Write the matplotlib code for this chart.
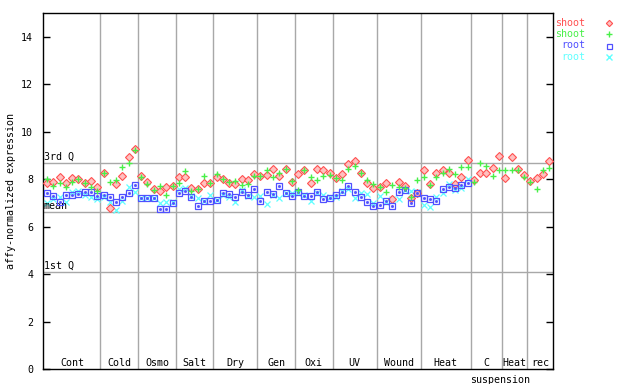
import matplotlib
matplotlib.use('Agg')
import matplotlib.pyplot as plt
import numpy as np

# sample groups and how many samples each holds
groups = ['Cont', 'Cold', 'Osmo', 'Salt', 'Dry', 'Gen', 'Oxi', 'UV',
          'Wound', 'Heat', 'C', 'Heat', 'rec']
counts = [9, 6, 6, 6, 7, 6, 6, 7, 7, 8, 5, 4, 4]

# reference lines
q3 = 8.69
mean = 6.62
q1 = 4.09

# shoot replicate 1 (red) and 2 (green)
shoot_red = [7.87, 7.91, 8.12, 7.84, 8.05, 8.01, 7.84, 7.95, 7.67,
             8.27, 6.79, 7.81, 8.15, 8.94, 9.29,
             8.15, 7.91, 7.60, 7.53, 7.70, 7.73,
             8.10, 8.10, 7.63, 7.59, 7.87, 7.87,
             8.10, 8.01, 7.84, 7.81, 8.01, 7.98, 8.24,
             8.15, 8.19, 8.43, 8.15, 8.43, 7.91,
             8.24, 8.38, 7.84, 8.43, 8.38, 8.29,
             8.05, 8.24, 8.66, 8.76, 8.29, 7.84, 7.63,
             7.70, 7.84, 7.17, 7.91, 7.73, 7.21, 7.42,
             8.38, 7.81, 8.26, 8.40, 8.29, 7.81, 8.10, 8.80,
             7.98, 8.29, 8.29, 8.47, 9.00,
             8.05, 8.94, 8.43, 8.19,
             7.95, 8.05, 8.24, 8.76]
shoot_green = [8.01, 7.73, 7.87, 7.70, 7.90, 8.01, 7.87, 7.67, 7.53,
               8.27, 7.91, 7.98, 8.52, 8.71, 9.25,
               8.12, 7.80, 7.55, 7.73, 7.35, 7.73,
               7.87, 8.35, 7.53, 7.59, 8.15, 7.87,
               8.24, 8.01, 7.91, 7.95, 7.77, 7.81, 8.15,
               8.15, 8.40, 8.10, 8.29, 8.43, 7.95,
               7.56, 8.38, 8.10, 7.96, 8.15, 8.19,
               8.05, 7.98, 8.43, 8.57, 8.26, 7.98, 7.81,
               7.70, 7.45, 7.77, 7.70, 7.63, 7.25, 7.98,
               8.12, 7.77, 8.10, 8.29, 8.43, 8.24, 8.52, 8.52,
               7.91, 8.71, 8.57, 8.15, 8.38,
               8.38, 8.38, 8.38, 8.10,
               7.91, 7.59, 8.38, 8.47]
# root replicate 1 (blue) and 2 (cyan), none for the last three groups
root_blue = [7.42, 7.31, 7.05, 7.34, 7.34, 7.39, 7.45, 7.45, 7.31,
             7.34, 7.28, 7.05, 7.25, 7.42, 7.77,
             7.20, 7.20, 7.20, 6.75, 6.77, 7.00,
             7.42, 7.53, 7.28, 6.89, 7.11, 7.11,
             7.14, 7.42, 7.39, 7.25, 7.45, 7.35, 7.59,
             7.10, 7.48, 7.38, 7.73, 7.42, 7.31,
             7.48, 7.31, 7.31, 7.45, 7.17, 7.21,
             7.35, 7.45, 7.73, 7.45, 7.28, 7.07, 6.86,
             6.93, 7.11, 6.89, 7.45, 7.56, 7.00, 7.42,
             7.21, 7.17, 7.11, 7.59, 7.67, 7.63, 7.77, 7.84]
root_cyan = [7.00, 7.17, 7.25, 7.03, 7.45, 7.53, 7.35, 7.25, 7.17,
             7.25, 7.07, 6.72, 7.10, 7.70, 7.49,
             7.20, 7.20, 7.20, 7.00, 7.05, 7.05,
             7.60, 7.63, 7.30, 7.21, 7.11, 7.35,
             7.14, 7.35, 7.25, 7.03, 7.55, 7.30, 7.25,
             7.29, 6.97, 7.35, 7.22, 7.42, 7.42,
             7.42, 7.35, 7.08, 7.42, 7.35, 7.28,
             7.25, 7.50, 7.60, 7.21, 7.42, 7.38, 7.00,
             7.31, 7.07, 7.17, 7.17, 7.56, 7.53, 7.45,
             6.93, 6.83, 7.25, 7.42, 7.81, 7.56, 7.63, 8.01]

RED = '#ff5050'
GREEN = '#48f048'
BLUE = '#5050ff'
CYAN = '#60ffff'
GRID = '#a8a8a8'
MONO = 'DejaVu Sans Mono'
FS = 7.2

fig = plt.figure(figsize=(6.4, 3.84), dpi=100)
ax = fig.add_axes([43 / 640, 14.7 / 384, 510 / 640, 356 / 384])

xs_shoot = np.arange(1, len(shoot_red) + 1)
xs_root = np.arange(1, len(root_blue) + 1)

# group dividers and labels
edges = np.concatenate([[0], np.cumsum(counts)]) + 0.5
for e in edges[1:-1]:
    ax.axvline(e, color=GRID, lw=1.0, zorder=1)
for i, name in enumerate(groups):
    cx = (edges[i] + edges[i + 1]) / 2
    ax.text(cx, 0.12, name, ha='center', va='baseline', fontsize=FS,
            family=MONO)
ax.text(edges[10] - 0.1, -0.22, 'suspension', ha='left', va='top',
        fontsize=FS, family=MONO, clip_on=False)

# quartile / mean lines
for val, lab in [(q3, '3rd Q'), (mean, 'mean'), (q1, '1st Q')]:
    ax.axhline(val, color=GRID, lw=1.0, zorder=1)
    ax.text(0.45, val + 0.05, lab, ha='left', va='bottom', fontsize=FS,
            family=MONO)

# data points
ax.plot(xs_shoot, shoot_red, ls='none', marker='D', ms=3.6,
        mfc='#ffc0c0', mec=RED, mew=0.8, zorder=3)
ax.plot(xs_shoot, shoot_green, ls='none', marker='+', ms=5,
        color=GREEN, mew=1.0, zorder=4)
ax.plot(xs_root, root_blue, ls='none', marker='s', ms=4.0,
        mfc='none', mec=BLUE, mew=0.9, zorder=3)
ax.plot(xs_root, root_blue, ls='none', marker='s', ms=1.0,
        mfc=BLUE, mec=BLUE, zorder=3)
ax.plot(xs_root, root_cyan, ls='none', marker='x', ms=4.0,
        color=CYAN, mew=0.9, zorder=2)

ax.set_xlim(0.36, 81.6)
ax.set_ylim(0, 15)
ax.set_yticks(range(0, 15, 2))
ax.set_xticks([])
ax.tick_params(axis='y', direction='in', length=5, width=1, pad=7,
               labelsize=FS, right=True)
for lab in ax.get_yticklabels():
    lab.set_family(MONO)
for sp in ax.spines.values():
    sp.set_linewidth(1.0)
ax.set_ylabel('affy-normalized expression', fontsize=FS, family=MONO)
ax.yaxis.set_label_coords(-0.052, 0.5)

# legend drawn as text outside the axes
legend = [('shoot', RED, 'D'), ('shoot', GREEN, '+'),
          ('root', BLUE, 's'), ('root', CYAN, 'x')]
for k, (name, col, mk) in enumerate(legend):
    ypx = 23.3 + 11.1 * k
    fig.text(585 / 640, 1 - ypx / 384, name, color=col, ha='right',
             va='center', fontsize=FS, family=MONO)
    if mk == 'D':
        fig.lines.append(plt.Line2D([609 / 640], [1 - ypx / 384], ls='none',
                                    marker='D', ms=3.2, mfc='#ffc0c0',
                                    mec=col, mew=0.8,
                                    transform=fig.transFigure))
    elif mk == 's':
        fig.lines.append(plt.Line2D([609 / 640], [1 - ypx / 384], ls='none',
                                    marker='s', ms=3.6, mfc='none', mec=col,
                                    mew=0.9, transform=fig.transFigure))
    else:
        fig.lines.append(plt.Line2D([609 / 640], [1 - ypx / 384], ls='none',
                                    marker=mk, ms=4.5, color=col, mew=1,
                                    transform=fig.transFigure))

fig.savefig('out.png', dpi=100)
